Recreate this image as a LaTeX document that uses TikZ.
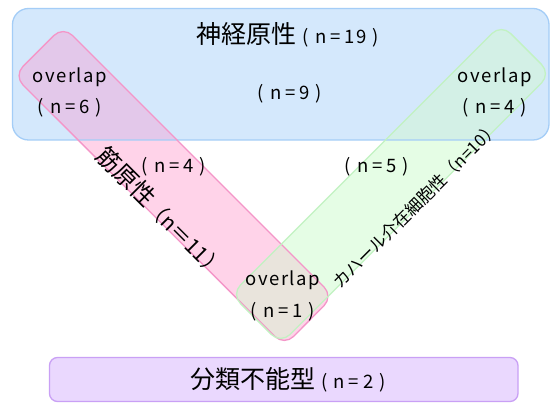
\documentclass[tikz,border=0pt]{standalone}
\usepackage{fontspec}
\setmainfont{Noto Sans CJK JP}
\newfontfamily\latf[LetterSpace=8]{Noto Sans CJK JP}
\newcommand\cnt[1]{(\hspace{6pt}n\hspace{4pt}=\hspace{4pt}#1\hspace{6pt})}
\definecolor{bluefill}{HTML}{D4E8FC}
\definecolor{blueline}{HTML}{A4CDF7}
\definecolor{pinkfill}{HTML}{FFD3E9}
\definecolor{pinkline}{HTML}{F496C8}
\definecolor{pinkblue}{HTML}{E3C8EA}
\definecolor{greenfill}{HTML}{E5FDE5}
\definecolor{greenline}{HTML}{C2F2C2}
\definecolor{greenblue}{HTML}{D3F0E6}
\definecolor{beigefill}{HTML}{E9E4DC}
\definecolor{purplefill}{HTML}{EAD8FE}
\definecolor{purpleline}{HTML}{C9A0F5}
\begin{document}
\begin{tikzpicture}[x=1pt,y=-1pt,
  lbl/.style={font=\latf\fontsize{18.5}{20}\selectfont, inner sep=0pt},
  big/.style={font=\fontsize{25}{27}\selectfont, inner sep=0pt},
  brd/.style={line width=1.3pt}]
\useasboundingbox (0,0) rectangle (550,403);
\fill[white] (0,0) rectangle (550,403);
\def\bluep{(12.5,8.5) rectangle (549,140)}
\def\pinkp{(63.2,26.2) -- (333.3,296.3) -- (284.3,345.8) -- (13.7,75.7) -- cycle}
\def\greenp{(231.2,294.3) -- (501.3,24.2) -- (550.8,73.7) -- (280.7,343.8) -- cycle}
\begin{scope}
\clip (0,0) rectangle (550,403);
\fill[bluefill, rounded corners=16pt] \bluep;
\fill[pinkfill, rounded corners=13pt] \pinkp;
\begin{scope}
  \clip[rounded corners=16pt] \bluep;
  \fill[pinkblue, rounded corners=13pt] \pinkp;
\end{scope}
\fill[greenfill, rounded corners=13pt] \greenp;
\begin{scope}
  \clip[rounded corners=16pt] \bluep;
  \fill[greenblue, rounded corners=13pt] \greenp;
\end{scope}
\begin{scope}
  \clip[rounded corners=13pt] \pinkp;
  \fill[beigefill, rounded corners=13pt] \greenp;
\end{scope}
\draw[brd, blueline, rounded corners=16pt] \bluep;
\draw[brd, pinkline, rounded corners=13pt] \pinkp;
\draw[brd, greenline, rounded corners=13pt] \greenp;
\end{scope}
\draw[brd, purpleline, fill=purplefill, rounded corners=8pt] (49.5,357.5) rectangle (518,401.5);

\node[big] (neuro) at (288,35) {神経原性\hspace{6pt}{\latf\fontsize{18.5}{20}\selectfont\cnt{19}}};
\node[lbl] (n9) at (290,94) {\cnt{9}};
\node[lbl] (ovl) at (70,77) {overlap};
\node[lbl] (n6) at (70,108) {\cnt{6}};
\node[lbl] (ovr) at (495,77) {overlap};
\node[lbl] (n4r) at (495,108) {\cnt{4}};
\node[lbl] (n4) at (174,167) {\cnt{4}};
\node[lbl] (n5) at (377,167) {\cnt{5}};
\node[lbl] (ovb) at (283,280) {overlap};
\node[lbl] (n1) at (283,312) {\cnt{1}};
\node[big] (unc) at (288,380) {分類不能型\hspace{6pt}{\latf\fontsize{18.5}{20}\selectfont\cnt{2}}};
\node[inner sep=0pt, rotate=-45, font=\fontsize{24}{26}\selectfont] (myo) at (161,212) {筋原性{\fontsize{21}{23}\selectfont（n＝11）}};
\node[inner sep=0pt, rotate=45, font=\fontsize{17}{19}\selectfont] (icc) at (416,205) {カハール介在細胞性（n=10）};
\end{tikzpicture}
\end{document}
